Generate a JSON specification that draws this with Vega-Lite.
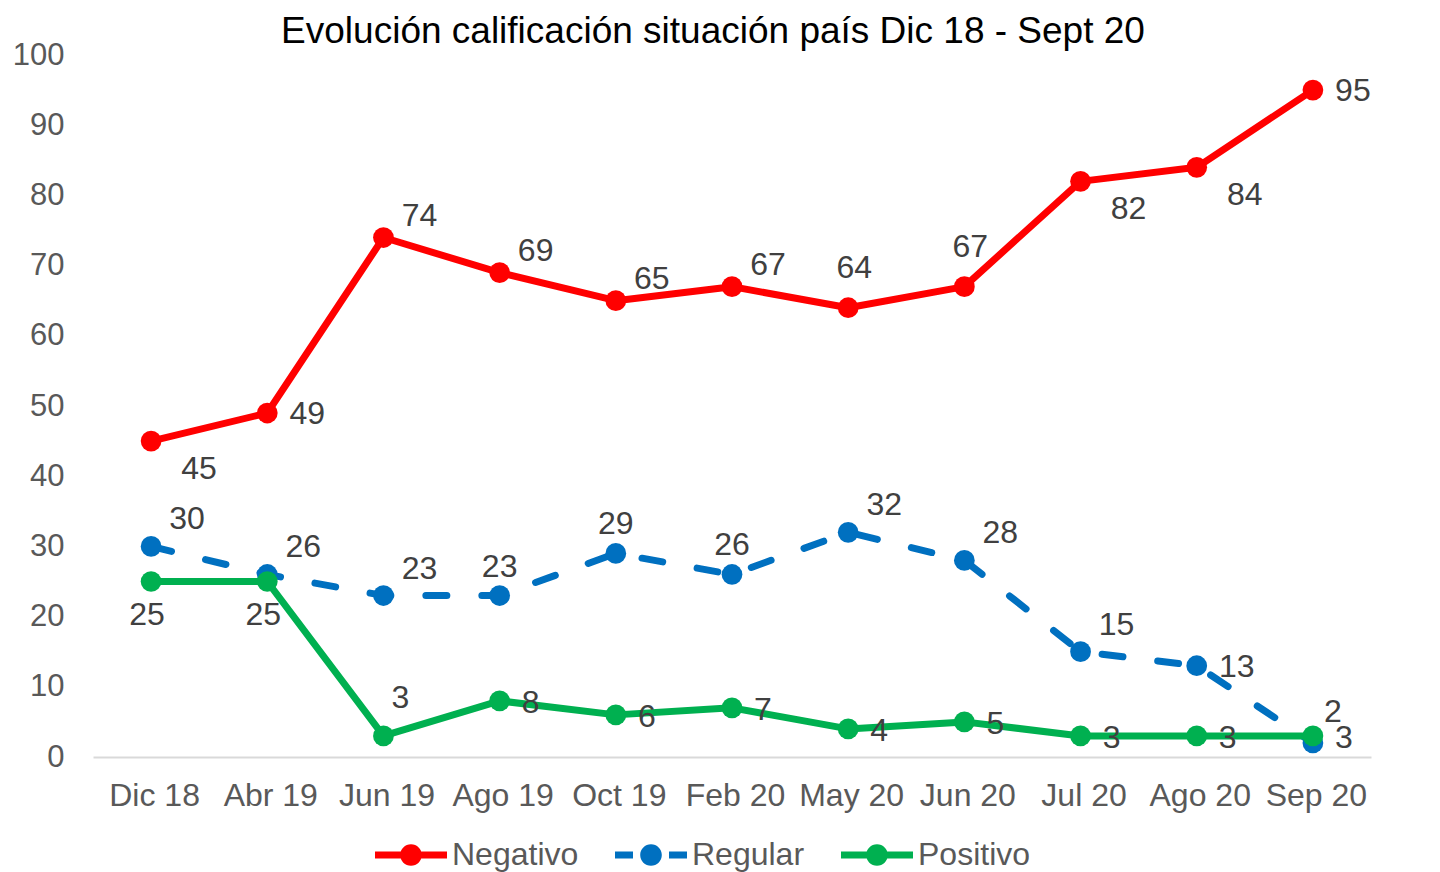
{
  "$schema": "https://vega.github.io/schema/vega-lite/v6.json",
  "width": 1278,
  "height": 702,
  "autosize": "none",
  "padding": {"left": 93, "top": 55, "right": 69, "bottom": 115},
  "background": "white",
  "config": {
    "view": {"stroke": null},
    "font": "Liberation Sans",
    "text": {"font": "Liberation Sans", "fontSize": 32, "color": "#404040", "align": "center", "baseline": "middle"}
  },
  "title": {
    "text": "Evolución calificación situación país Dic 18 - Sept 20",
    "font": "Liberation Sans",
    "fontSize": 37,
    "fontWeight": "normal",
    "color": "#000000",
    "anchor": "middle",
    "frame": "group",
    "dx": -19,
    "dy": 54,
    "baseline": "alphabetic",
    "offset": 13
  },
  "data": {
    "values": [
      {"m": "Dic 18", "s": "Negativo", "v": 45},
      {"m": "Abr 19", "s": "Negativo", "v": 49},
      {"m": "Jun 19", "s": "Negativo", "v": 74},
      {"m": "Ago 19", "s": "Negativo", "v": 69},
      {"m": "Oct 19", "s": "Negativo", "v": 65},
      {"m": "Feb 20", "s": "Negativo", "v": 67},
      {"m": "May 20", "s": "Negativo", "v": 64},
      {"m": "Jun 20", "s": "Negativo", "v": 67},
      {"m": "Jul 20", "s": "Negativo", "v": 82},
      {"m": "Ago 20", "s": "Negativo", "v": 84},
      {"m": "Sep 20", "s": "Negativo", "v": 95},
      {"m": "Dic 18", "s": "Regular", "v": 30},
      {"m": "Abr 19", "s": "Regular", "v": 26},
      {"m": "Jun 19", "s": "Regular", "v": 23},
      {"m": "Ago 19", "s": "Regular", "v": 23},
      {"m": "Oct 19", "s": "Regular", "v": 29},
      {"m": "Feb 20", "s": "Regular", "v": 26},
      {"m": "May 20", "s": "Regular", "v": 32},
      {"m": "Jun 20", "s": "Regular", "v": 28},
      {"m": "Jul 20", "s": "Regular", "v": 15},
      {"m": "Ago 20", "s": "Regular", "v": 13},
      {"m": "Sep 20", "s": "Regular", "v": 2},
      {"m": "Dic 18", "s": "Positivo", "v": 25},
      {"m": "Abr 19", "s": "Positivo", "v": 25},
      {"m": "Jun 19", "s": "Positivo", "v": 3},
      {"m": "Ago 19", "s": "Positivo", "v": 8},
      {"m": "Oct 19", "s": "Positivo", "v": 6},
      {"m": "Feb 20", "s": "Positivo", "v": 7},
      {"m": "May 20", "s": "Positivo", "v": 4},
      {"m": "Jun 20", "s": "Positivo", "v": 5},
      {"m": "Jul 20", "s": "Positivo", "v": 3},
      {"m": "Ago 20", "s": "Positivo", "v": 3},
      {"m": "Sep 20", "s": "Positivo", "v": 3}
    ]
  },
  "encoding": {
    "x": {
      "field": "m",
      "type": "ordinal",
      "sort": ["Dic 18", "Abr 19", "Jun 19", "Ago 19", "Oct 19", "Feb 20", "May 20", "Jun 20", "Jul 20", "Ago 20", "Sep 20"],
      "scale": {"type": "point", "padding": 0.5},
      "axis": {
        "title": null,
        "labelAngle": 0,
        "labelFont": "Liberation Sans",
        "labelFontSize": 32,
        "labelColor": "#595959",
        "labelPadding": 23,
        "labelOffset": 3,
        "ticks": false,
        "domainColor": "#d9d9d9",
        "domainWidth": 2,
        "grid": false
      }
    },
    "y": {
      "field": "v",
      "type": "quantitative",
      "scale": {"domain": [0, 100], "nice": false},
      "axis": {
        "title": null,
        "values": [0, 10, 20, 30, 40, 50, 60, 70, 80, 90, 100],
        "labelFont": "Liberation Sans",
        "labelFontSize": 31,
        "labelColor": "#595959",
        "labelPadding": 29,
        "ticks": false,
        "domain": false,
        "grid": false
      }
    }
  },
  "layer": [
    {
      "transform": [{"filter": "datum.s === 'Negativo'"}],
      "mark": {"type": "line", "strokeWidth": 7, "strokeJoin": "round", "strokeCap": "round"},
      "encoding": {
        "color": {
          "field": "s",
          "type": "nominal",
          "scale": {"domain": ["Negativo", "Regular", "Positivo"], "range": ["#FF0000", "#0070C0", "#00B050"]},
          "legend": {
            "orient": "none",
            "legendX": 282,
            "legendY": 764,
            "direction": "horizontal",
            "columns": 3,
            "title": null,
            "padding": 0,
            "labelFont": "Liberation Sans",
            "labelFontSize": 32,
            "labelColor": "#595959",
            "labelOffset": 5,
            "columnPadding": 36,
            "symbolSize": 5184,
            "symbolStrokeWidth": 0,
            "encode": {
              "symbols": {
                "update": {
                  "shape": {"signal": "datum.value === 'Regular' ? 'M-1,-0.1L-0.5,-0.1L-0.5,0.1L-1,0.1Z M0.5,-0.1L1,-0.1L1,0.1L0.5,0.1Z M0.3,0A0.3,0.3,0,1,1,-0.3,0A0.3,0.3,0,1,1,0.3,0Z' : 'M-1,-0.1L1,-0.1L1,0.1L-1,0.1Z M0.3,0A0.3,0.3,0,1,1,-0.3,0A0.3,0.3,0,1,1,0.3,0Z'"},
                  "fill": {"scale": "color", "field": "value"},
                  "stroke": {"value": "transparent"},
                  "strokeWidth": {"value": 0},
                  "opacity": {"value": 1}
                }
              }
            }
          }
        }
      }
    },
    {
      "transform": [{"filter": "datum.s === 'Negativo'"}],
      "mark": {"type": "point", "filled": true, "opacity": 1, "size": 430, "shape": "circle"},
      "encoding": {"color": {"field": "s", "type": "nominal"}}
    },
    {
      "transform": [{"filter": "datum.s === 'Regular'"}],
      "mark": {"type": "line", "strokeWidth": 7, "strokeDash": [21, 35], "strokeCap": "round", "strokeJoin": "round"},
      "encoding": {"color": {"field": "s", "type": "nominal"}}
    },
    {
      "transform": [{"filter": "datum.s === 'Regular'"}],
      "mark": {"type": "point", "filled": true, "opacity": 1, "size": 430, "shape": "circle"},
      "encoding": {"color": {"field": "s", "type": "nominal"}}
    },
    {
      "transform": [{"filter": "datum.s === 'Positivo'"}],
      "mark": {"type": "line", "strokeWidth": 7, "strokeJoin": "round", "strokeCap": "round"},
      "encoding": {"color": {"field": "s", "type": "nominal"}}
    },
    {
      "transform": [{"filter": "datum.s === 'Positivo'"}],
      "mark": {"type": "point", "filled": true, "opacity": 1, "size": 430, "shape": "circle"},
      "encoding": {"color": {"field": "s", "type": "nominal"}}
    },
    {
      "transform": [{"filter": "indexof(['Negativo|Jun 19','Negativo|Ago 19','Negativo|Oct 19','Negativo|Feb 20'], datum.s + '|' + datum.m) >= 0"}],
      "mark": {"type": "text", "dx": 36, "dy": -22},
      "encoding": {"text": {"field": "v", "type": "quantitative"}}
    },
    {
      "transform": [{"filter": "indexof(['Negativo|May 20','Negativo|Jun 20'], datum.s + '|' + datum.m) >= 0"}],
      "mark": {"type": "text", "dx": 6, "dy": -40},
      "encoding": {"text": {"field": "v", "type": "quantitative"}}
    },
    {
      "transform": [{"filter": "indexof(['Negativo|Dic 18','Negativo|Jul 20','Negativo|Ago 20'], datum.s + '|' + datum.m) >= 0"}],
      "mark": {"type": "text", "dx": 48, "dy": 28},
      "encoding": {"text": {"field": "v", "type": "quantitative"}}
    },
    {
      "transform": [{"filter": "indexof(['Negativo|Abr 19','Negativo|Sep 20','Regular|Ago 20'], datum.s + '|' + datum.m) >= 0"}],
      "mark": {"type": "text", "dx": 40, "dy": 1},
      "encoding": {"text": {"field": "v", "type": "quantitative"}}
    },
    {
      "transform": [{"filter": "indexof(['Regular|Dic 18','Regular|Abr 19','Regular|Jun 19','Regular|May 20','Regular|Jun 20','Regular|Jul 20'], datum.s + '|' + datum.m) >= 0"}],
      "mark": {"type": "text", "dx": 36, "dy": -27},
      "encoding": {"text": {"field": "v", "type": "quantitative"}}
    },
    {
      "transform": [{"filter": "indexof(['Regular|Ago 19','Regular|Oct 19','Regular|Feb 20'], datum.s + '|' + datum.m) >= 0"}],
      "mark": {"type": "text", "dx": 0, "dy": -29},
      "encoding": {"text": {"field": "v", "type": "quantitative"}}
    },
    {
      "transform": [{"filter": "indexof(['Regular|Sep 20'], datum.s + '|' + datum.m) >= 0"}],
      "mark": {"type": "text", "dx": 20, "dy": -31},
      "encoding": {"text": {"field": "v", "type": "quantitative"}}
    },
    {
      "transform": [{"filter": "indexof(['Positivo|Dic 18','Positivo|Abr 19'], datum.s + '|' + datum.m) >= 0"}],
      "mark": {"type": "text", "dx": -4, "dy": 33},
      "encoding": {"text": {"field": "v", "type": "quantitative"}}
    },
    {
      "transform": [{"filter": "indexof(['Positivo|Jun 19'], datum.s + '|' + datum.m) >= 0"}],
      "mark": {"type": "text", "dx": 17, "dy": -38},
      "encoding": {"text": {"field": "v", "type": "quantitative"}}
    },
    {
      "transform": [{"filter": "indexof(['Positivo|Ago 19','Positivo|Oct 19','Positivo|Feb 20','Positivo|May 20','Positivo|Jun 20','Positivo|Jul 20','Positivo|Ago 20','Positivo|Sep 20'], datum.s + '|' + datum.m) >= 0"}],
      "mark": {"type": "text", "dx": 31, "dy": 2},
      "encoding": {"text": {"field": "v", "type": "quantitative"}}
    }
  ]
}
